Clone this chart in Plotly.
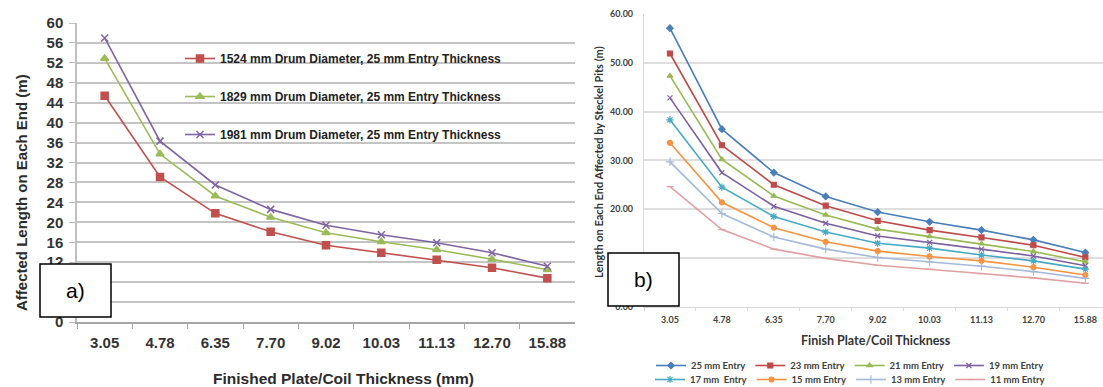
import plotly.graph_objects as go

W, H = 1103, 387

# ---------------- data ----------------
thickness = ["3.05", "4.78", "6.35", "7.70", "9.02", "10.03", "11.13", "12.70", "15.88"]

drum_names = [
    "1524 mm Drum Diameter, 25 mm Entry Thickness",
    "1829 mm Drum Diameter, 25 mm Entry Thickness",
    "1981 mm Drum Diameter, 25 mm Entry Thickness",
]
drum_1524 = [45.4, 29.1, 21.8, 18.1, 15.4, 13.9, 12.5, 10.9, 8.8]
drum_1829 = [52.9, 33.7, 25.3, 21.0, 17.9, 16.1, 14.5, 12.6, 10.5]
drum_1981 = [57.0, 36.3, 27.5, 22.6, 19.4, 17.5, 15.9, 13.9, 11.2]

entry_names = ["25 mm Entry", "23 mm Entry", "21 mm Entry", "19 mm Entry",
               "17 mm  Entry", "15 mm Entry", "13 mm Entry", "11 mm Entry"]
entry_25 = [57.1, 36.4, 27.5, 22.6, 19.4, 17.4, 15.7, 13.7, 11.1]
entry_23 = [51.9, 33.1, 25.0, 20.7, 17.6, 15.7, 14.2, 12.6, 10.1]
entry_21 = [47.3, 30.2, 22.7, 18.8, 15.9, 14.4, 12.9, 11.3, 9.2]
entry_19 = [42.8, 27.5, 20.6, 17.1, 14.5, 13.2, 11.8, 10.4, 8.4]
entry_17 = [38.3, 24.5, 18.5, 15.3, 13.0, 12.0, 10.6, 9.4, 7.7]
entry_15 = [33.6, 21.4, 16.2, 13.3, 11.4, 10.3, 9.4, 8.1, 6.5]
entry_13 = [29.7, 19.1, 14.3, 11.8, 10.1, 9.2, 8.3, 7.2, 5.8]
entry_11 = [24.6, 15.8, 11.8, 9.9, 8.5, 7.7, 6.8, 5.9, 4.8]

left_ticks = list(range(0, 61, 4))
right_ticks = list(range(0, 61, 10))

# ---------------- styles ----------------
def px(x):
    return x / W

def py(y):
    return 1 - y / H

FL = "Liberation Sans, Arial, sans-serif"
FR = "Lato, Open Sans, sans-serif"

fig = go.Figure()

left_styles = [
    ("#C0504D", "square", 7),
    ("#9BBB59", "triangle-up", 7),
    ("#8064A2", "x-thin-open", 7),
]
for name, vals, (c, sym, sz) in zip(drum_names, [drum_1524, drum_1829, drum_1981], left_styles):
    fig.add_trace(go.Scatter(
        x=thickness, y=vals, name=name, mode="lines+markers",
        line=dict(color=c, width=1.6),
        marker=dict(symbol=sym, size=sz, color=c, line=dict(color=c, width=1.5)),
        xaxis="x", yaxis="y", legend="legend", legendgroup=name,
    ))

right_styles = [
    ("#4A7EBB", "diamond", 5),
    ("#BE4B48", "square", 5),
    ("#98B954", "triangle-up", 5),
    ("#7D60A0", "x-thin-open", 5),
    ("#46AAC5", "asterisk-open", 6),
    ("#F69240", "circle", 5),
    ("#A5B9DA", "cross-thin-open", 6),
    ("#E0A0A0", "line-ew-open", 5),
]
right_vals = [entry_25, entry_23, entry_21, entry_19, entry_17, entry_15, entry_13, entry_11]
for i, (name, vals, (c, sym, sz)) in enumerate(zip(entry_names, right_vals, right_styles)):
    fig.add_trace(go.Scatter(
        x=thickness, y=vals, name=name, mode="lines+markers",
        line=dict(color=c, width=1.6),
        marker=dict(symbol=sym, size=sz, color=c, line=dict(color=c, width=1.2)),
        xaxis="x2", yaxis="y2", legend="legend2" if i < 4 else "legend3",
    ))

grid_l = "#C4C4C4"
grid_r = "#DEDEDE"

fig.update_layout(
    width=W, height=H,
    margin=dict(l=0, r=0, t=0, b=0, autoexpand=False),
    paper_bgcolor="white", plot_bgcolor="white",
    showlegend=True,
    xaxis=dict(
        domain=[px(77), px(575)], anchor="y", type="category", range=[-0.5, 8.5],
        automargin=False,
        showgrid=False, showline=True, linecolor="#A6A6A6", linewidth=1.5,
        ticks="outside", tickson="boundaries", ticklen=5, tickcolor="#A6A6A6",
        tickfont=dict(family=FL, size=15, color="#333333", weight="bold"),
        ticklabelstandoff=6,
    ),
    yaxis=dict(
        domain=[py(322), py(23)], anchor="x", range=[0, 60], automargin=False,
        tickvals=left_ticks, showgrid=True, gridcolor=grid_l, gridwidth=1.8,
        showline=True, linecolor="#BFBFBF", linewidth=1.5, zeroline=False,
        ticks="outside", ticklen=6, tickcolor="#BFBFBF",
        tickfont=dict(family=FL, size=15, color="#333333", weight="bold"),
        ticklabelstandoff=3,
    ),
    xaxis2=dict(
        domain=[px(644), 1.0], anchor="y2", type="category", range=[-0.5, 8.34],
        automargin=False,
        showgrid=False, showline=True, linecolor="#D9D9D9", linewidth=1.2,
        ticks="outside", tickson="boundaries", ticklen=3, tickcolor="#D9D9D9",
        tickfont=dict(family=FR, size=9, color="#404040", weight="bold"),
        ticklabelstandoff=4,
    ),
    yaxis2=dict(
        domain=[py(306.7), py(14)], anchor="x2", range=[0, 60], automargin=False,
        tickvals=right_ticks, tickformat=".2f", showgrid=True, gridcolor=grid_r,
        gridwidth=1.5, showline=True, linecolor="#D9D9D9", linewidth=1.2,
        zeroline=False, ticks="",
        tickfont=dict(family=FR, size=9, color="#404040", weight="bold"),
        ticklabelstandoff=8,
    ),
    legend=dict(
        x=px(180), y=py(44), xanchor="left", yanchor="top",
        bgcolor="rgba(0,0,0,0)", borderwidth=0, tracegroupgap=19,
        font=dict(family=FL, size=12, color="#222222", weight="bold"),
        itemwidth=30, traceorder="grouped",
    ),
    legend2=dict(
        orientation="h", x=px(850), y=py(351), xanchor="center", yanchor="top",
        bgcolor="rgba(0,0,0,0)", borderwidth=0,
        font=dict(family=FR, size=9.5, color="#404040", weight="bold"),
        itemwidth=30,
    ),
    legend3=dict(
        orientation="h", x=px(850), y=py(365), xanchor="center", yanchor="top",
        bgcolor="rgba(0,0,0,0)", borderwidth=0,
        font=dict(family=FR, size=9.5, color="#404040", weight="bold"),
        itemwidth=30,
    ),
)

annotations = [
    dict(text="<b>Affected Length on Each End (m)</b>", x=px(21), y=py(193), textangle=-90,
         font=dict(family=FL, size=15, color="#2B2B2B")),
    dict(text="<b>Finished Plate/Coil Thickness (mm)</b>", x=px(343), y=py(378),
         font=dict(family=FL, size=15.5, color="#2B2B2B")),
    dict(text="<b>Length on Each End Affected by Steckel Pits (m)</b>", x=px(598), y=py(162),
         textangle=-90, font=dict(family=FR, size=11, color="#333333")),
    dict(text="<b>Finish Plate/Coil Thickness</b>", x=px(876), y=py(340),
         font=dict(family=FR, size=12.5, color="#333333")),
    dict(text="a)", x=px(75.5), y=py(290.5), font=dict(family=FL, size=21, color="#000000")),
    dict(text="b)", x=px(643.5), y=py(279.5), font=dict(family=FL, size=21, color="#000000")),
]
for a in annotations:
    a.update(xref="paper", yref="paper", showarrow=False, xanchor="center", yanchor="middle")
fig.update_layout(annotations=annotations)

fig.update_layout(shapes=[
    dict(type="rect", xref="paper", yref="paper", x0=px(40), x1=px(111), y0=py(317), y1=py(264),
         fillcolor="white", line=dict(color="black", width=1.5), layer="above"),
    dict(type="rect", xref="paper", yref="paper", x0=px(608), x1=px(679), y0=py(306), y1=py(253),
         fillcolor="white", line=dict(color="black", width=1.5), layer="above"),
])

# remove the browser's default 8px body margin so the figure sits at the page origin
fig.write_html("out.html", config={"displayModeBar": False},
               post_script="document.body.style.margin='0px';")
